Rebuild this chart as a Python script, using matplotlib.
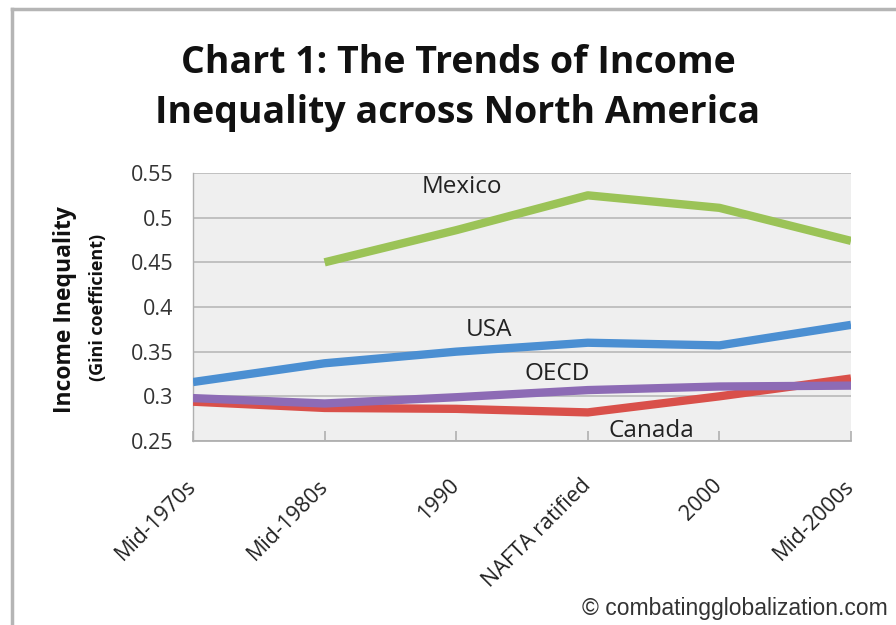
import matplotlib
matplotlib.use("Agg")
import matplotlib.pyplot as plt
from matplotlib.lines import Line2D

categories = ["Mid-1970s", "Mid-1980s", "1990", "NAFTA ratified", "2000", "Mid-2000s"]
mexico = [None, 0.450, 0.486, 0.525, 0.511, 0.474]
usa = [0.316, 0.337, 0.350, 0.360, 0.357, 0.380]
oecd = [0.298, 0.292, 0.299, 0.307, 0.311, 0.312]
canada = [0.294, 0.287, 0.286, 0.282, 0.300, 0.320]
yticks = [0.25, 0.3, 0.35, 0.4, 0.45, 0.5, 0.55]
ytick_labels = ["0.25", "0.3", "0.35", "0.4", "0.45", "0.5", "0.55"]

W, H = 896, 625
fig = plt.figure(figsize=(W / 100, H / 100), dpi=100)
fig.patch.set_facecolor("white")

ax = fig.add_axes([193 / W, 1 - 441 / H, (851 - 193) / W, (441 - 173) / H])
ax.set_facecolor("#efefef")

x = list(range(len(categories)))
mx = [i for i, v in zip(x, mexico) if v is not None]
my = [v for v in mexico if v is not None]

lw = 6
kw = dict(lw=lw, solid_capstyle="butt", solid_joinstyle="round")
ax.plot(x, canada, color="#d9504a", zorder=3, **kw)
ax.plot(x, oecd, color="#8d6bb5", zorder=4, **kw)
ax.plot(x, usa, color="#4b8fd2", zorder=4, **kw)
ax.plot(mx, my, color="#9bc357", zorder=4, **kw)

ax.set_xlim(0, len(categories) - 1)
ax.set_ylim(0.25, 0.55)
ax.set_yticks(yticks)
ax.set_yticklabels(ytick_labels, fontsize=15.5, family="Open Sans", color="#333333")
ax.set_xticks(x)
ax.set_xticklabels(categories, rotation=45, ha="right", va="center", rotation_mode="anchor",
                   fontsize=15.5, family="Open Sans", color="#222222")
ax.tick_params(axis="y", length=0, pad=14)
ax.tick_params(axis="x", length=7, direction="in", color="#b0b0b0", width=1.2, pad=30)
ax.grid(axis="y", color="#bdbdbd", lw=1.3)
ax.set_axisbelow(True)
for s in ["top", "right"]:
    ax.spines[s].set_visible(False)
ax.spines["left"].set_color("#b0b0b0")
ax.spines["bottom"].set_color("#b0b0b0")
ax.spines["bottom"].set_linewidth(1.3)
ax.spines["left"].set_linewidth(1.0)

lab = dict(fontsize=17.5, family="Open Sans", color="#222222", ha="center", va="center", zorder=6)
ax.text(2.04, 0.5343, "Mexico", **lab)
ax.text(2.25, 0.3743, "USA", **lab)
ax.text(2.77, 0.3250, "OECD", **lab)
ax.text(3.48, 0.2612, "Canada", **lab)

ax.set_ylabel("Income Inequality", fontsize=16.5, family="Open Sans", fontweight="bold",
              color="#111111")
ax.yaxis.set_label_coords((65 - 193) / (851 - 193), (441 - 310) / (441 - 173))
ax.yaxis.label.set_va("center")
fig.text(98 / W, 1 - 307 / H, "(Gini coefficient)", rotation=90, fontsize=13,
         family="Open Sans", fontweight="bold", ha="center", va="center", color="#111111")

tkw = dict(fontsize=27, family="Open Sans", fontweight="bold", ha="center",
           va="baseline", color="#111111")
fig.text(458 / W, 1 - 73 / H, "Chart 1: The Trends of Income", **tkw)
fig.text(458 / W, 1 - 123 / H, "Inequality across North America", **tkw)

fig.text(888 / W, 1 - 608 / H, "© combatingglobalization.com", fontsize=16.5,
         family="Liberation Sans", ha="right", va="center", color="#333333")

# chart border (left and top)
fig.add_artist(Line2D([12 / W, 12 / W], [0, 1 - 9 / H], transform=fig.transFigure,
                      color="#b5b5b5", lw=2.5))
fig.add_artist(Line2D([12 / W, 1], [1 - 9 / H, 1 - 9 / H], transform=fig.transFigure,
                      color="#b5b5b5", lw=2.5))

fig.savefig("out.png", dpi=100, facecolor="white")
